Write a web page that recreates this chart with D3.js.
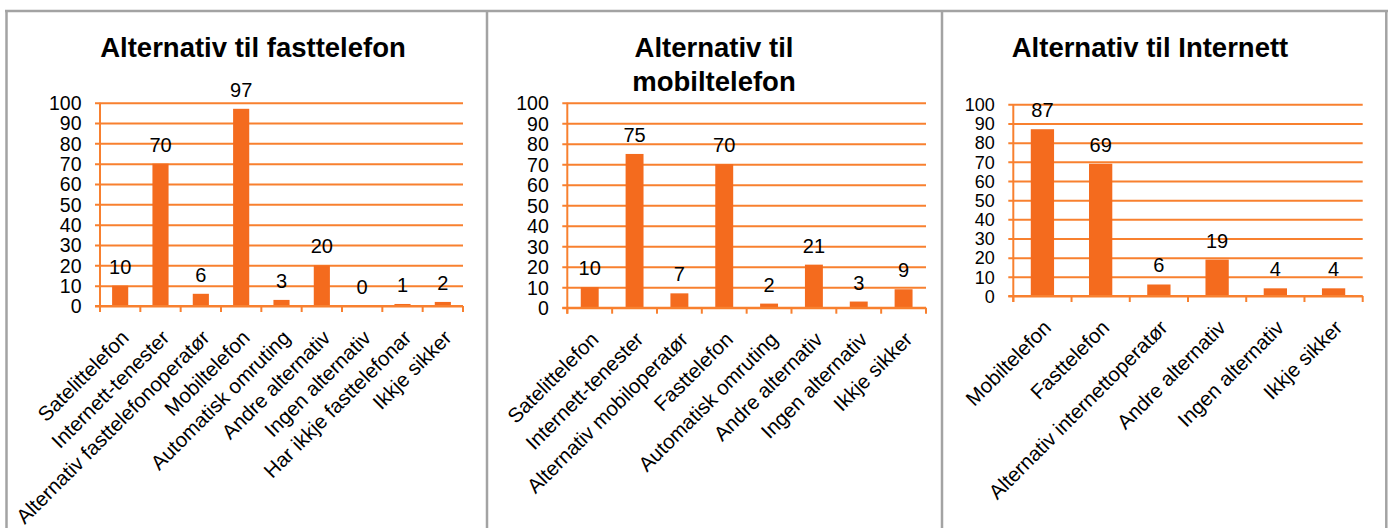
<!doctype html>
<html>
<head>
    <meta charset="utf-8">
    <title>Alternativ</title>
    <style>
        body { margin: 0; background: #fff; }
        svg { display: block; font-family: Arial, "Liberation Sans", sans-serif; }
        .grid line { stroke: #F8802F; stroke-width: 2; }
        .bar { fill: #F46B1E; }
        .tick-label { fill: #000; }
        .val { font-size: 20px; fill: #000; text-anchor: middle; }
        .xlab { font-size: 20.5px; fill: #000; }
        .title { font-size: 27.5px; font-weight: bold; fill: #000; text-anchor: middle; }
    </style>
    <script src="https://d3js.org/d3.v7.min.js"></script>
</head>
<body>
<svg width="1389" height="528"></svg>
<script>

    // data
    var fastCategories = ["Satelittelefon", "Internett-tenester", "Alternativ fasttelefonoperatør", "Mobiltelefon",
                          "Automatisk omruting", "Andre alternativ", "Ingen alternativ", "Har ikkje fasttelefonar", "Ikkje sikker"];
    var fastValues = [10, 70, 6, 97, 3, 20, 0, 1, 2];

    var mobilCategories = ["Satelittelefon", "Internett-tenester", "Alternativ mobiloperatør", "Fasttelefon",
                           "Automatisk omruting", "Andre alternativ", "Ingen alternativ", "Ikkje sikker"];
    var mobilValues = [10, 75, 7, 70, 2, 21, 3, 9];

    var netCategories = ["Mobiltelefon", "Fasttelefon", "Alternativ internettoperatør", "Andre alternativ",
                         "Ingen alternativ", "Ikkje sikker"];
    var netValues = [87, 69, 6, 19, 4, 4];

    var yTicks = [0, 10, 20, 30, 40, 50, 60, 70, 80, 90, 100];

    // layout of each panel
    var panels = [
        { title: ["Alternativ til fasttelefon"], tx: 253, ty: 57, tickFont: 19.5,
          cats: fastCategories, vals: fastValues, x0: 100, x1: 463, top: 102.7, bottom: 306 },
        { title: ["Alternativ til", "mobiltelefon"], tx: 714, ty: 57, tickFont: 19.5,
          cats: mobilCategories, vals: mobilValues, x0: 567.3, x1: 926, top: 102.7, bottom: 307.7 },
        { title: ["Alternativ til Internett"], tx: 1150, ty: 57, tickFont: 18,
          cats: netCategories, vals: netValues, x0: 1013.3, x1: 1362.7, top: 104.3, bottom: 296 }
    ];

    var svg = d3.select("svg");

    // table cell borders
    var border = svg.append("g").attr("stroke", "#A3A3A3").attr("stroke-width", 2.5);
    border.append("line").attr("x1", 5).attr("x2", 1388).attr("y1", 11).attr("y2", 11);
    [6.5, 487, 942, 1386.3].forEach(function(x) {
        border.append("line").attr("x1", x).attr("x2", x).attr("y1", 10).attr("y2", 528);
    });

    panels.forEach(function(p) {
        var w = p.x1 - p.x0;
        var g = svg.append("g").attr("transform", "translate(" + p.x0 + ",0)");

        var x = d3.scaleBand().domain(p.cats).range([0, w]).paddingInner(0.6).paddingOuter(0.3);
        var y = d3.scaleLinear().domain([0, 100]).range([p.bottom, p.top]);

        // title
        var t = svg.append("text").attr("class", "title").attr("x", p.tx).attr("y", p.ty);
        p.title.forEach(function(line, i) {
            t.append("tspan").attr("x", p.tx).attr("dy", i == 0 ? 0 : 34).text(line);
        });

        // y axis with gridlines
        var ya = g.append("g").attr("class", "grid")
            .call(d3.axisLeft(y).tickValues(yTicks).tickSize(-w));
        ya.select(".domain").remove();
        ya.selectAll("line").attr("x1", -5).attr("x2", w);
        ya.selectAll("text").attr("class", "tick-label").attr("x", -18.5).attr("dy", "0.35em")
          .attr("font-family", null).attr("font-size", p.tickFont);

        // vertical axis line
        g.append("line").attr("x1", 0).attr("x2", 0).attr("y1", y(100)).attr("y2", p.bottom + 6)
         .attr("stroke", "#F8802F").attr("stroke-width", 2);

        // x ticks at category boundaries
        g.selectAll(".xt")
         .data(d3.range(p.cats.length + 1))
         .enter().append("line")
         .attr("x1", function(i) { return i * x.step(); })
         .attr("x2", function(i) { return i * x.step(); })
         .attr("y1", p.bottom).attr("y2", p.bottom + 6)
         .attr("stroke", "#F8802F").attr("stroke-width", 2);

        // bars
        g.selectAll(".bar")
         .data(p.vals)
         .enter().append("rect")
         .attr("class", "bar")
         .attr("x", function(d, i) { return x(p.cats[i]); })
         .attr("y", function(d) { return y(d); })
         .attr("width", x.bandwidth())
         .attr("height", function(d) { return p.bottom - y(d); });

        // x axis line on top of bars
        g.append("line").attr("x1", -5).attr("x2", w).attr("y1", p.bottom).attr("y2", p.bottom)
         .attr("stroke", "#F8802F").attr("stroke-width", 2);

        // value labels
        g.selectAll(".val")
         .data(p.vals)
         .enter().append("text")
         .attr("class", "val")
         .attr("x", function(d, i) { return x(p.cats[i]) + x.bandwidth() / 2; })
         .attr("y", function(d) { return y(d) - 12; })
         .text(function(d) { return d; });

        // category labels
        var xa = g.append("g").attr("transform", "translate(0," + p.bottom + ")")
            .call(d3.axisBottom(x).tickSize(0));
        xa.select(".domain").remove();
        xa.selectAll("text")
          .attr("class", "xlab")
          .attr("font-size", null).attr("font-family", null)
          .attr("y", 0).attr("dy", 0)
          .attr("text-anchor", "end")
          .attr("transform", "translate(10,33) rotate(-45)");
    });
</script>
</body>
</html>
